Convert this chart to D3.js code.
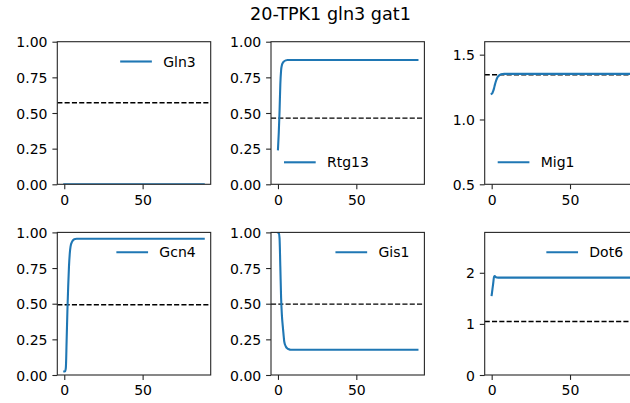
<!DOCTYPE html>
<html>
<head>
<meta charset="utf-8">
<script src="https://cdn.jsdelivr.net/npm/d3@7"></script>
<style>
  html, body { margin: 0; padding: 0; background: #fff; }
  svg { display: block; font-family: "DejaVu Sans", sans-serif; }
</style>
</head>
<body>
<svg id="fig" width="630" height="403"></svg>
<script>
// Simulation time points shared by all six traces
const timePoints = [0, 0.5, 1, 1.5, 2, 2.5, 3, 3.5, 4, 5, 6, 7, 8, 10, 20, 30, 40, 50, 60, 70, 80, 89];

// Panel names, in row-major order
const panelNames = ["Gln3", "Rtg13", "Mig1", "Gcn4", "Gis1", "Dot6"];

// Trajectories for each transcription factor
const gln3 = [0, 0, 0, 0, 0, 0, 0, 0, 0, 0, 0, 0, 0, 0, 0, 0, 0, 0, 0, 0, 0, 0];
const rtg13 = [0.245, 0.36, 0.51, 0.70, 0.80, 0.835, 0.85, 0.858, 0.863, 0.869, 0.872, 0.872, 0.872, 0.872, 0.872, 0.872, 0.872, 0.872, 0.872, 0.872, 0.872, 0.872];
const mig1 = [1.198, 1.205, 1.22, 1.24, 1.265, 1.287, 1.305, 1.32, 1.33, 1.342, 1.349, 1.351, 1.352, 1.352, 1.352, 1.352, 1.352, 1.352, 1.352, 1.352, 1.352, 1.352];
const gcn4 = [0.025, 0.026, 0.05, 0.24, 0.45, 0.62, 0.76, 0.85, 0.90, 0.935, 0.95, 0.954, 0.955, 0.955, 0.955, 0.955, 0.955, 0.955, 0.955, 0.955, 0.955, 0.955];
const gis1 = [1.0, 1.0, 0.96, 0.76, 0.54, 0.42, 0.35, 0.29, 0.235, 0.20, 0.186, 0.18, 0.177, 0.177, 0.177, 0.177, 0.177, 0.177, 0.177, 0.177, 0.177, 0.177];
const dot6 = [1.565, 1.68, 1.80, 1.92, 1.935, 1.92, 1.91, 1.906, 1.905, 1.905, 1.905, 1.905, 1.905, 1.905, 1.905, 1.905, 1.905, 1.905, 1.905, 1.905, 1.905, 1.905];

// Reference levels (dashed lines)
const thresholds = [0.572, 0.464, 1.345, 0.493, 0.497, 1.047];

// Axis limits and tick labels per panel
const yLimits = [[0, 1], [0, 1], [0.5, 1.6], [0, 1], [0, 1], [0, 2.79]];
const yTicks = [
  [0, 0.25, 0.5, 0.75, 1], [0, 0.25, 0.5, 0.75, 1], [0.5, 1.0, 1.5],
  [0, 0.25, 0.5, 0.75, 1], [0, 0.25, 0.5, 0.75, 1], [0, 1, 2]
];
const yTickFormats = [".2f", ".2f", ".1f", ".2f", ".2f", "d"];
const xTicks = [0, 50];
const legendCorner = ["upper right", "lower left", "lower left", "upper right", "upper right", "upper right"];
const figTitle = "20-TPK1 gln3 gat1";

const seriesValues = [gln3, rtg13, mig1, gcn4, gis1, dot6];

// Layout
const svg = d3.select("#fig");
const axW = 153.4, axH = 142.6;
const colX = [57.3, 271.0, 484.7];
const rowY = [41.7, 232.4];
const tickLen = 4.9, tickPad = 4.9;
const fontSize = 14;
const lineColor = "#1f77b4";
const spineColor = "#262626";

svg.append("text")
  .attr("x", 330.5).attr("y", 20)
  .attr("text-anchor", "middle")
  .attr("font-size", 17.6)
  .attr("fill", "#000")
  .text(figTitle);

const tMax = d3.max(timePoints), tMin = d3.min(timePoints);
const xPad = (tMax - tMin) * 0.05;

panelNames.forEach((name, i) => {
  const row = Math.floor(i / 3), col = i % 3;
  const g = svg.append("g").attr("transform", `translate(${colX[col]},${rowY[row]})`);

  const x = d3.scaleLinear().domain([tMin - xPad, tMax + xPad]).range([0, axW]);
  const y = d3.scaleLinear().domain(yLimits[i]).range([axH, 0]);

  const clipId = "clip" + i;
  g.append("clipPath").attr("id", clipId)
    .append("rect").attr("x", 0).attr("y", 0).attr("width", axW).attr("height", axH);

  const plot = g.append("g").attr("clip-path", `url(#${clipId})`);

  // dashed reference level
  plot.append("line")
    .attr("x1", 0).attr("x2", axW)
    .attr("y1", y(thresholds[i])).attr("y2", y(thresholds[i]))
    .attr("stroke", "#000").attr("stroke-width", 1.4)
    .attr("stroke-dasharray", "5.1,2.2");

  // trajectory
  const pts = timePoints.map((t, k) => [t, seriesValues[i][k]]);
  plot.append("path")
    .datum(pts)
    .attr("fill", "none")
    .attr("stroke", lineColor)
    .attr("stroke-width", 2.1)
    .attr("stroke-linejoin", "round")
    .attr("stroke-linecap", "square")
    .attr("d", d3.line().x(d => x(d[0])).y(d => y(d[1])).curve(d3.curveMonotoneX));

  // axes
  const yAxis = d3.axisLeft(y).tickValues(yTicks[i])
    .tickFormat(d3.format(yTickFormats[i]))
    .tickSizeInner(tickLen).tickSizeOuter(0).tickPadding(tickPad);
  const xAxis = d3.axisBottom(x).tickValues(xTicks)
    .tickFormat(d3.format("d"))
    .tickSizeInner(tickLen).tickSizeOuter(0).tickPadding(tickPad);

  const ya = g.append("g").call(yAxis);
  const xa = g.append("g").attr("transform", `translate(0,${axH})`).call(xAxis);
  [ya, xa].forEach(a => {
    a.select(".domain").remove();
    a.selectAll(".tick line").attr("stroke", spineColor).attr("stroke-width", 1.1);
    a.selectAll(".tick text").attr("font-size", fontSize).attr("fill", "#000")
      .attr("font-family", "DejaVu Sans, sans-serif");
  });
  ya.selectAll(".tick text").attr("dy", "0.36em");
  xa.selectAll(".tick text").attr("dy", "0.76em");

  // frame
  g.append("rect")
    .attr("x", 0).attr("y", 0).attr("width", axW).attr("height", axH)
    .attr("fill", "none").attr("stroke", spineColor).attr("stroke-width", 1.1);

  // legend
  const lg = g.append("g");
  const txt = lg.append("text")
    .attr("font-size", fontSize).attr("fill", "#000")
    .attr("dy", "0.36em")
    .text(name);
  const tw = txt.node().getComputedTextLength();
  let lx, ly;
  if (legendCorner[i] === "upper right") {
    lx = axW - 15 - tw - 11.3 - 31.7;
    ly = 19.8;
  } else {
    lx = 13;
    ly = axH - 22;
  }
  lg.append("line")
    .attr("x1", lx).attr("x2", lx + 31.7)
    .attr("y1", ly).attr("y2", ly)
    .attr("stroke", lineColor).attr("stroke-width", 2.1);
  txt.attr("x", lx + 31.7 + 11.3).attr("y", ly);
});
</script>
</body>
</html>
